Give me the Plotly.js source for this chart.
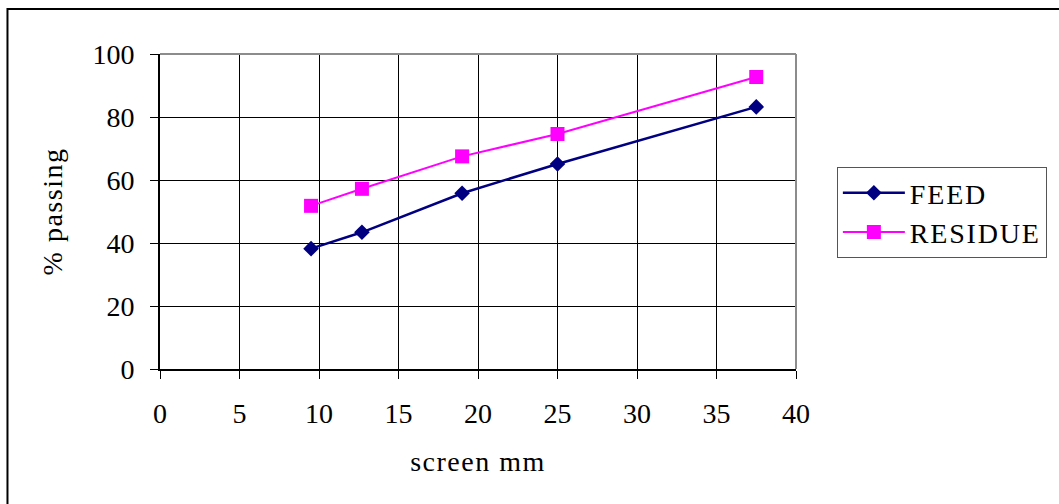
<!DOCTYPE html>
<html>
<head>
<meta charset="utf-8">
<script src="https://cdn.plot.ly/plotly-3.0.1.min.js"></script>
<style>
  html, body { margin: 0; padding: 0; background: #fff; }
  #chart { width: 1059px; height: 504px; }
  text.legendtext { letter-spacing: 1.8px; }
  text.xtitle, text.ytitle { letter-spacing: 1.5px; }
</style>
</head>
<body>
<div id="chart"></div>
<script>
// Data
const screenMM = [9.5, 12.7, 19, 25, 37.5];
const feedPassing = [38.2, 43.4, 55.8, 65.1, 83.2];
const residuePassing = [51.8, 57.2, 67.5, 74.6, 92.7];
const seriesNames = ["FEED", "RESIDUE"];
const xTitle = "screen mm";
const yTitle = "% passing";

const FONT = '"Liberation Serif", "Times New Roman", serif';

const traces = [
  {
    x: screenMM, y: feedPassing, name: seriesNames[0],
    type: 'scatter', mode: 'lines+markers',
    line: { color: '#000080', width: 2.5 },
    marker: { symbol: 'diamond', size: 12, color: '#000080' }
  },
  {
    x: screenMM, y: residuePassing, name: seriesNames[1],
    type: 'scatter', mode: 'lines+markers',
    line: { color: '#FF00FF', width: 2 },
    marker: { symbol: 'square', size: 14, color: '#FF00FF' }
  }
];

const L = 160, R = 798, T = 54, B = 369, W = 1059, Hh = 504;
const pw = R - L, ph = B - T;
const px = v => (v - L) / pw;
const py = v => (B - v) / ph;

const layout = {
  width: W, height: Hh,
  margin: { l: L, r: W - R, t: T, b: Hh - B, pad: 0 },
  paper_bgcolor: '#ffffff', plot_bgcolor: '#ffffff',
  font: { family: FONT, size: 28, color: '#000' },
  showlegend: true,
  xaxis: {
    range: [0, 40], dtick: 5, tick0: 0,
    showgrid: true, gridcolor: '#000', gridwidth: 1,
    zeroline: false,
    showline: true, linecolor: '#000', linewidth: 2,
    ticks: 'outside', ticklen: 8, tickcolor: '#000', tickwidth: 1,
    ticklabelstandoff: 10,
    tickfont: { family: FONT, size: 28, color: '#000' },
    title: { text: xTitle, font: { family: FONT, size: 28, color: '#000' }, standoff: 24 },
    fixedrange: true
  },
  yaxis: {
    range: [0, 100], dtick: 20, tick0: 0,
    showgrid: true, gridcolor: '#000', gridwidth: 1,
    zeroline: false,
    showline: true, linecolor: '#000', linewidth: 2,
    ticks: 'outside', ticklen: 8, tickcolor: '#000', tickwidth: 1,
    ticklabelstandoff: 10,
    tickfont: { family: FONT, size: 28, color: '#000' },
    title: { text: yTitle, font: { family: FONT, size: 28, color: '#000' }, standoff: 22 },
    fixedrange: true
  },
  legend: {
    x: px(839), y: py(167), xanchor: 'left', yanchor: 'top',
    bgcolor: '#ffffff', bordercolor: '#555555', borderwidth: 1,
    font: { family: FONT, size: 28, color: '#000' },
    itemwidth: 62
  },
  shapes: [
    // grey plot-area border (top and right)
    { type: 'line', xref: 'paper', yref: 'paper', x0: 0, x1: 1, y0: 1, y1: 1,
      line: { color: '#8c8c8c', width: 2 } },
    { type: 'line', xref: 'paper', yref: 'paper', x0: 1, x1: 1, y0: 0, y1: 1,
      line: { color: '#8c8c8c', width: 2 } },
    // outer chart frame (cropped on right and bottom)
    { type: 'rect', xref: 'paper', yref: 'paper',
      x0: px(7), x1: px(1080), y0: py(530), y1: py(9),
      line: { color: '#000', width: 2 }, fillcolor: 'rgba(0,0,0,0)' }
  ]
};

Plotly.newPlot('chart', traces, layout, { displayModeBar: false, staticPlot: true });
</script>
</body>
</html>
